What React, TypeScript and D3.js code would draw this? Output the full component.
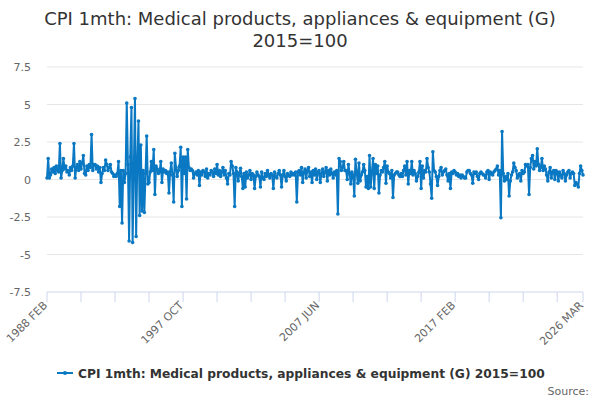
import React from "react";
import * as d3 from "d3";

const titleLines = ["CPI 1mth: Medical products, appliances & equipment (G)", "2015=100"];
const seriesName = "CPI 1mth: Medical products, appliances & equipment (G) 2015=100";
const startYear = 1988;
const startMonth = 1; // FEB (0-based)
const monthNames = ["JAN", "FEB", "MAR", "APR", "MAY", "JUN", "JUL", "AUG", "SEP", "OCT", "NOV", "DEC"];
const yTicks = [-7.5, -5, -2.5, 0, 2.5, 5, 7.5];
const tickEvery = 29;
const labelEvery = 116;

const values1988 = [
  0.1, 1.4, 0.1, 0.3, 0.7, 0.5, 0.8, 0.4, 0.9, 0.6,
  0.5, 2.4, 0.1, 0.6, 1.4, 0.7, 0.9, 0.5, 0.6, 0.3,
  0.8, 0.6, 0.9, 2.4, 0.1, 0.8, 1.0, 0.6, 1.2, 0.7,
  1.1, 1.6, 0.4, 0.3, 0.9, 0.6, 1.0, 0.8, 3.0, 0.6,
  1.0,
];
const values1991 = [
  1.0, 0.7, 0.9, 0.5, 0.8, -0.2, 0.4, 0.8, 0.6, 1.3,
  1.0, 0.6, 0.8, 1.0, 0.5, 0.4, 0.2, 0.3, 0.2, 0.4,
  1.2, -1.8, 0.6, -2.9, 0.6, -0.2, 0.4, 5.1, 1.0, -4.1,
  1.5, 4.8, -4.2, 0.5, 5.4, -3.8, 1.2, 3.9, -2.4, 2.3,
  -2.1, 0.6, -2.2, 0.4, 2.9, -0.3,
];
const values1995 = [
  -0.2, 0.5, 1.2, 0.6, 2.0, -1.0, 0.9, 0.7, 0.4, 0.5,
  1.2, -0.2, 0.7, 0.5, 0.6, 0.4, 0.5, -0.9, 0.5, 1.1,
  0.3, -1.5, 1.75, 0.8, 0.2, 0.6, 0.9, 2.15, -1.8, 1.5,
  0.4, 1.5, -1.3, 2.0, 0.8, 0.6, 0.7, 0.6, 0.1, 0.4,
  0.5,
];
const values1998 = [
  0.3, 0.6, -0.4, 0.5, 0.3, 0.6, 0.5, 0.2, 0.7, 0.1,
  0.4, 0.3, 0.6, 0.5, 0.2, 0.7, 0.4, 1.0, 0.3, 0.6,
  0.2, 0.5, 0.8, 0.3, 0.6, 0.1, -0.3, 0.4, 0.3, 1.2,
  0.9, 0.4, -1.8, 0.8, 0.5, -0.1, 0.4, 0.75, 0.2, -0.6,
  0.4,
];
const values2002 = [
  -0.5, 0.5, 0.1, 0.3, 0.6, 0.0, 0.4, 0.3, -0.6, 0.2,
  0.5, 0.3, 0.2, -0.5, 0.5, 0.1, 0.0, 0.4, 0.2, 0.6,
  0.3, 0.1, 0.4, 0.3, -0.6, 0.5, 0.2, 0.1, 0.4, 0.6,
  0.3, -0.5, 0.3, 0.6, 0.2, -0.1, 0.4, 0.3, 0.2, 0.5,
  0.3, 0.4, 0.3,
];
const values2005 = [
  0.5, -1.5, 0.5, 0.6, 0.3, 0.8, -0.2, 0.5, 0.7, 0.1,
  0.6, 0.8, 0.2, 0.5, -0.2, 0.6, 0.3, 0.7, 0.0, 0.5,
  0.6, -0.2, 0.4, 0.7, 0.2, 0.5, 0.8, -0.1, 0.6, 0.3,
  0.7, 0.4, 0.1, 0.5, 0.3, 0.6, -2.3, 1.4, 1.2, 0.6,
  0.8, 1.2,
];
const values2009 = [
  0.6, 0.6, 0.0, 1.0, 0.4, -0.3, 0.5, 0.3, -1.1, 1.35,
  0.5, -0.25, 1.1, -0.1, 0.3, 0.5, 1.0, 0.6, -0.5, 0.2,
  -0.6, 1.6, -0.5, 0.5, 1.4, -0.6, 1.0, 0.4, 0.9, -0.9,
  0.3, 0.6, 0.5, 0.8, 1.2, -0.25, 0.9, 0.5, 0.4, 0.1,
  0.6, -1.2, 0.3,
];
const values2012 = [
  0.4, 0.5, 0.5, 0.3, 0.2, 0.4, 0.2, 0.6, 0.9, 0.3,
  1.2, -0.3, 0.6, 0.4, 1.2, 0.3, 0.6, 0.4, -0.1, 0.2,
  0.5, 1.2, -0.6, 0.9, 0.1, 0.6, 0.5, 1.4, 0.8, 0.5,
  -0.3, -1.25, 1.85, 0.6, 0.5, 0.2, -0.4, 0.2, 0.6, 0.8,
  0.3, 0.5, 0.6,
];
const values2016 = [
  0.7, 0.3, -0.1, 0.4, -0.6, 0.5, 0.4, 0.6, 0.5, 0.3,
  0.4, 0.2, 0.3, 0.1, 0.3, 0.2, 0.1, 0.1, 0.5, 0.6,
  0.6, 0.4, 0.3, -0.25, 0.5, 0.4, 0.5, 0.2, 0.0, 0.4,
  0.5, 0.4, 0.3, 0.3, 0.1, 0.5, 0.6, 0.0, 0.5, 0.4,
  0.3, 0.5, 0.6,
];
const values2019 = [
  0.7, 0.9, 0.3, 0.6, -2.55, 3.2, 0.4, -0.1, 0.2, 0.0,
  0.4, -1.1, -0.1, 0.3, 0.5, 1.1, 0.8, 0.6, 0.1, 0.3,
  0.4, -0.1, 0.6, 0.4, 0.5, 1.0, 0.9, 1.0, -1.0, 0.8,
  1.4, 1.6, 0.7, 1.2, 0.9, 2.05, 1.0, 0.6, 0.8, 1.4,
  0.6, 0.9,
];
const values2023 = [
  0.7, 0.3, -0.1, 0.5, 0.8, 0.1, 0.5, 0.6, 0.0, 0.6,
  0.5, -0.1, 0.5, 0.3, 0.1, 0.6, 0.4, -0.1, 0.3, 0.5,
  0.6, 0.1, 0.4, 0.5, 0.4, -0.4, -0.2, -0.3, -0.5, 0.4,
  0.9, 0.6, 0.3,
];

const values = [
  ...values1988, ...values1991, ...values1995, ...values1998, ...values2002, ...values2005,
  ...values2009, ...values2012, ...values2016, ...values2019, ...values2023,
];

const labelFor = (i: number) => {
  const m = startMonth + i;
  return `${startYear + Math.floor(m / 12)} ${monthNames[m % 12]}`;
};

const W = 600;
const H = 400;
const FONT = "'DejaVu Sans', sans-serif";
const LINE = "#0a78c2";

export default function App() {
  const n = values.length;
  const x = d3.scaleLinear().domain([0, n - 1]).range([47, 583]);
  const y = d3.scaleLinear().domain([-7.5, 7.5]).range([292, 67]);
  const line = d3.line<number>().x((_, i) => x(i)).y((d) => y(d));

  const ticks: number[] = [];
  for (let i = 0; i < n; i += tickEvery) ticks.push(i);
  if (ticks[ticks.length - 1] !== n - 1) ticks.push(n - 1);
  const labels: number[] = [];
  for (let i = 0; i < n; i += labelEvery) labels.push(i);
  if (labels[labels.length - 1] !== n - 1) labels.push(n - 1);

  return (
    <div style={{ position: "fixed", left: 0, top: 0 }}>
      <svg width={W} height={H} style={{ display: "block", fontFamily: FONT }}>
        <rect width={W} height={H} fill="#fff" />
        {titleLines.map((t, i) => (
          <text key={i} x={300} y={25 + i * 22} textAnchor="middle" fontSize={18} fill="#333">
            {t}
          </text>
        ))}
        {yTicks.map((t) => (
          <g key={t}>
            <line x1={47} x2={583} y1={y(t)} y2={y(t)} stroke={t === -7.5 ? "#ccd6eb" : "#e6e6e6"} strokeWidth={1} />
            <text x={31} y={y(t) + 4} textAnchor="end" fontSize={11} fill="#666">
              {String(t)}
            </text>
          </g>
        ))}
        {ticks.map((i) => (
          <line key={i} x1={x(i)} x2={x(i)} y1={292} y2={302} stroke="#ccd6eb" strokeWidth={1} />
        ))}
        {labels.map((i) => (
          <text
            key={i}
            transform={`translate(${x(i) + 1},${306}) rotate(-45)`}
            textAnchor="end"
            fontSize={11}
            fill="#666"
          >
            {labelFor(i)}
          </text>
        ))}
        <path d={line(values) ?? ""} fill="none" stroke={LINE} strokeWidth={2} strokeLinejoin="round" />
        {values.map((v, i) => (
          <circle key={i} cx={x(i)} cy={y(v)} r={1.8} fill={LINE} />
        ))}
        <g>
          <line x1={57} x2={73} y1={373} y2={373} stroke={LINE} strokeWidth={2} />
          <circle cx={65} cy={373} r={2} fill={LINE} />
          <text x={78} y={377.5} fontSize={12.25} fontWeight="bold" fill="#333">
            {seriesName}
          </text>
        </g>
        <text x={589} y={395} textAnchor="end" fontSize={11} fill="#666">
          Source:
        </text>
      </svg>
    </div>
  );
}
